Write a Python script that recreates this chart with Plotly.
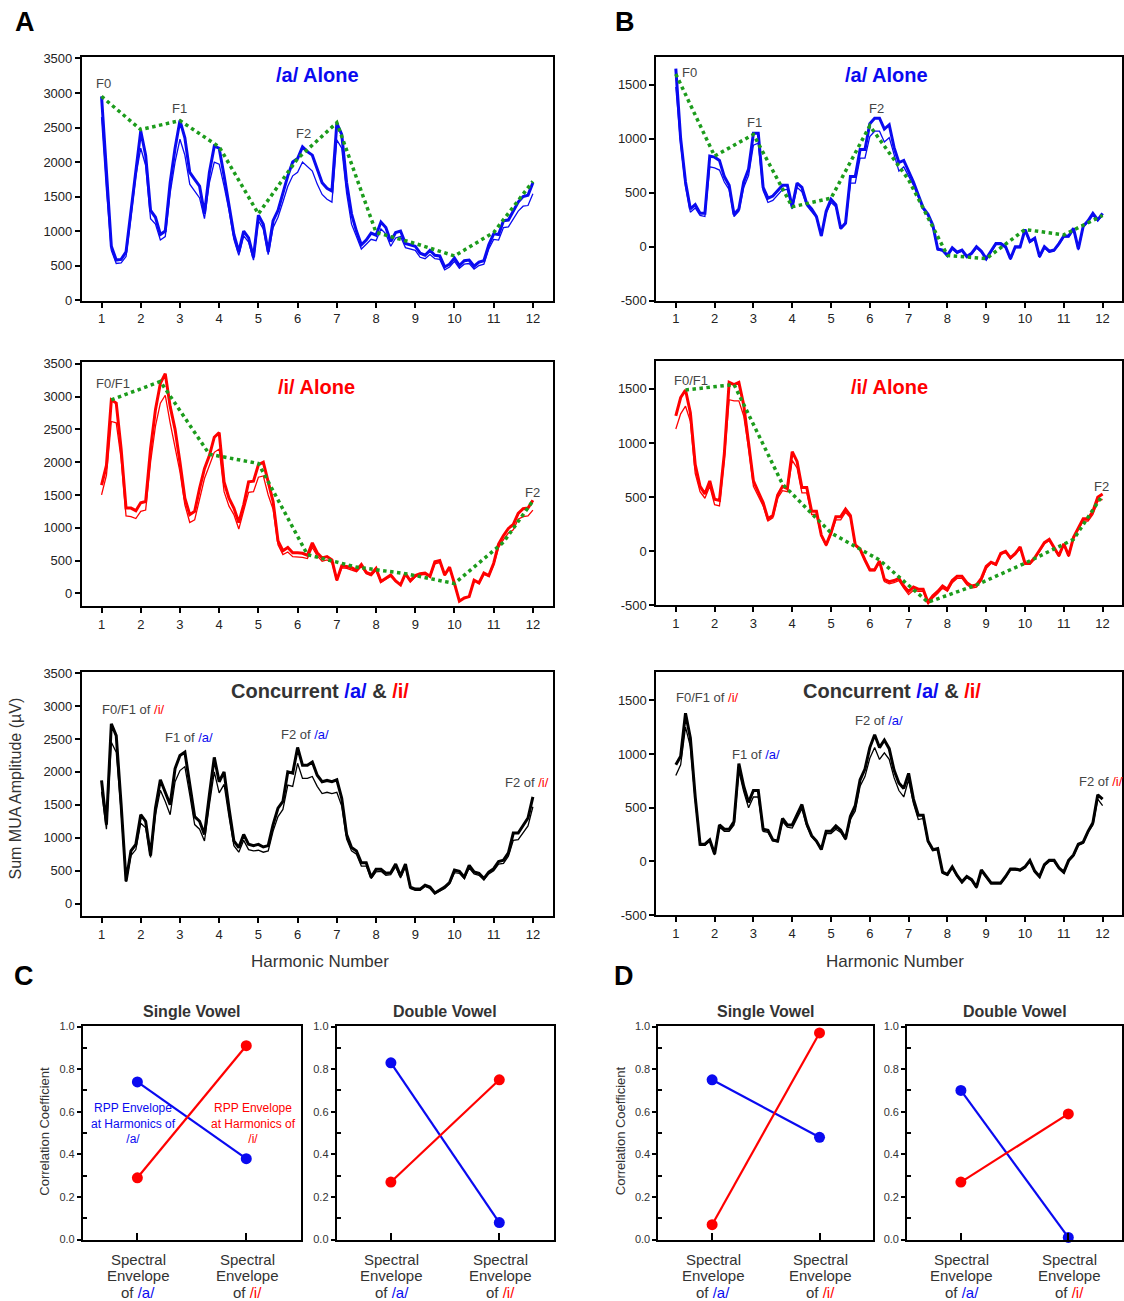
import numpy as np
import plotly.graph_objects as go

W, H = 1124, 1301
FONT = "Arial, Liberation Sans, sans-serif"
BLUE, RED, GREEN, DARK = "#0a0af0", "#ff0000", "#1c9c1c", "#333333"

# harmonic-number grid (step 1/8)
harm = np.round(np.arange(1, 12.0001, 0.125), 3)

# ---------------- Panel A ----------------
A_a_thick = [2950, 1800, 780, 580, 590, 700, 1300, 1900, 2450,
             2100, 1300, 1200, 950, 1000, 1700, 2200, 2600,
             2350, 1850, 1750, 1650, 1250, 1850, 2230, 2200,
             1800, 1400, 950, 700, 1000, 900, 620, 1230,
             1100, 700, 1150, 1300, 1550, 1800, 2000, 2050,
             2220, 2150, 2100, 1900, 1700, 1620, 1580, 2560,
             2400, 1700, 1250, 1000, 800, 870, 970, 940,
             1130, 1050, 850, 980, 1000, 820, 800, 780,
             680, 650, 720, 650, 640, 480, 520, 610,
             500, 570, 580, 490, 550, 570, 800, 960,
             950, 1150, 1160, 1300, 1420, 1500, 1520, 1700]
A_a_thin = [2650, 1600, 720, 530, 540, 630, 1200, 1800, 2200,
            1950, 1180, 1100, 870, 920, 1550, 2000, 2330,
            2100, 1680, 1580, 1480, 1180, 1700, 2000, 1970,
            1650, 1300, 880, 650, 930, 840, 580, 1150,
            1030, 660, 1050, 1200, 1420, 1650, 1800, 1850,
            2000, 1930, 1870, 1680, 1530, 1460, 1420, 2320,
            2200, 1550, 1100, 920, 740, 810, 880, 860,
            1030, 960, 780, 900, 920, 760, 740, 720,
            620, 600, 660, 600, 590, 440, 480, 560,
            460, 520, 530, 450, 500, 520, 740, 880,
            870, 1050, 1060, 1180, 1290, 1360, 1370, 1540]
A_a_env_x = [1, 2, 3, 4, 5, 6, 7, 8, 9, 10, 11, 12]
A_a_env_y = [2950, 2470, 2600, 2220, 1250, 2050, 2570, 980, 820, 640, 980, 1720]

A_i_thick = [1650, 1950, 2950, 2900, 2200, 1300, 1300, 1260, 1380,
             1400, 2200, 2800, 3200, 3350, 2850, 2500, 2000,
             1450, 1200, 1250, 1600, 1900, 2100, 2380, 2450,
             1700, 1450, 1300, 1080, 1350, 1700, 1710, 1960,
             2000, 1700, 1400, 800, 650, 700, 620, 620,
             610, 580, 770, 620, 540, 560, 510, 200,
             420, 410, 390, 350, 440, 320, 290, 380,
             180, 230, 280, 190, 130, 300, 190, 270,
             300, 310, 260, 480, 500, 280, 400, 150,
             -120, -70, -50, 200, 160, 310, 270, 460,
             750, 880, 990, 1050, 1220, 1290, 1300, 1420]
A_i_thin = [1500, 1800, 2620, 2600, 2050, 1180, 1170, 1140, 1250,
            1270, 2000, 2550, 2900, 3020, 2600, 2250, 1850,
            1350, 1080, 1120, 1450, 1750, 1950, 2150, 2200,
            1550, 1330, 1200, 980, 1250, 1540, 1550, 1770,
            1790, 1500, 1280, 740, 590, 630, 560, 560,
            550, 530, 700, 570, 490, 510, 470, 190,
            390, 380, 360, 330, 410, 300, 270, 350,
            170, 220, 260, 180, 130, 280, 180, 250,
            280, 290, 250, 450, 470, 270, 380, 140,
            -110, -70, -50, 190, 150, 290, 260, 430,
            700, 820, 920, 970, 1130, 1170, 1180, 1270]
A_i_env_x = [1.25, 2.5, 3.75, 5, 6.25, 7.5, 8.75, 10, 11.25, 12]
A_i_env_y = [2950, 3230, 2120, 1980, 590, 400, 300, 150, 780, 1410]

A_c_thick = [1870, 1200, 2730, 2550, 1500, 340, 800, 900, 1350,
             1250, 730, 1450, 1880, 1700, 1500, 2050, 2250,
             2300, 1800, 1320, 1250, 1050, 1650, 2220, 1850,
             2000, 1450, 950, 850, 1050, 900, 880, 900,
             860, 880, 1200, 1450, 1550, 2000, 1980, 2370,
             2100, 2100, 2150, 1950, 1850, 1870, 1850, 1880,
             1600, 1050, 850, 800, 620, 620, 400, 520,
             520, 460, 470, 600, 420, 600, 250, 220,
             220, 280, 250, 160, 200, 250, 320, 510,
             490, 400, 580, 480, 460, 380, 480, 530,
             640, 660, 770, 1070, 1070, 1180, 1300, 1620]
A_c_thin = [1700, 1130, 2450, 2300, 1400, 330, 730, 820, 1220,
            1150, 700, 1350, 1720, 1550, 1350, 1850, 2020,
            2080, 1650, 1200, 1130, 950, 1500, 2000, 1680,
            1810, 1320, 880, 780, 960, 820, 800, 810,
            780, 800, 1100, 1320, 1430, 1800, 1780, 2130,
            1900, 1900, 1930, 1780, 1670, 1690, 1670, 1690,
            1480, 980, 800, 750, 570, 570, 380, 480,
            490, 430, 440, 560, 390, 560, 230, 200,
            200, 260, 230, 150, 190, 230, 300, 470,
            460, 380, 540, 450, 430, 360, 450, 500,
            600, 610, 720, 960, 970, 1080, 1180, 1470]

# ---------------- Panel B ----------------
B_a_thick = [1650, 1000, 600, 350, 390, 310, 310, 840, 830,
             800, 650, 570, 300, 350, 600, 720, 1050,
             1050, 550, 450, 470, 520, 570, 570, 370,
             590, 550, 400, 350, 280, 100, 330, 440,
             390, 170, 220, 650, 650, 900, 900, 1140,
             1190, 1190, 1090, 1130, 920, 780, 800, 700,
             600, 480, 360, 300, 200, -20, -30, -80,
             -10, -50, -30, -90, -60, 0, -40, -110,
             -40, 30, 30, 0, -110, 0, 0, 160,
             50, 80, -90, 0, -40, -30, 30, 100,
             100, 170, -20, 190, 240, 310, 250, 310]
B_a_thin = [1480, 950, 560, 320, 360, 290, 280, 740, 730,
            710, 600, 530, 280, 330, 550, 660, 940,
            960, 520, 410, 430, 480, 530, 530, 350,
            550, 510, 380, 330, 270, 100, 310, 410,
            370, 170, 210, 590, 590, 820, 820, 1020,
            1070, 1070, 970, 1010, 850, 700, 740, 660,
            570, 460, 350, 290, 190, -30, -40, -90,
            -20, -60, -40, -100, -70, -10, -50, -120,
            -50, 20, 20, -10, -120, -10, -10, 150,
            40, 70, -100, -10, -50, -40, 20, 90,
            90, 160, -30, 180, 230, 290, 240, 290]
B_a_env_x = [1, 2, 3, 4, 5, 6, 7, 8, 9, 10, 11, 12]
B_a_env_y = [1600, 840, 1040, 370, 450, 1120, 620, -80, -110, 160, 110, 290]

B_i_thick = [1250, 1420, 1490, 1280, 800, 600, 530, 650, 480,
             470, 900, 1560, 1540, 1560, 1350, 1000, 650,
             550, 450, 300, 330, 520, 600, 580, 920,
             830, 590, 590, 370, 370, 150, 60, 170,
             320, 320, 390, 330, 60, 20, -80, -170,
             -170, -90, -260, -280, -270, -250, -320, -370,
             -330, -350, -350, -470, -410, -370, -320, -350,
             -270, -230, -230, -290, -320, -310, -250, -140,
             -100, -120, -20, 0, -60, -20, 40, -110,
             -110, -60, 10, 80, 110, 30, -40, 70,
             -40, 130, 220, 300, 300, 370, 500, 530]
B_i_thin = [1130, 1270, 1340, 1200, 720, 550, 490, 600, 430,
            420, 850, 1400, 1390, 1390, 1250, 950, 600,
            510, 420, 280, 310, 490, 560, 550, 840,
            770, 540, 540, 340, 340, 140, 50, 160,
            290, 290, 360, 310, 50, 10, -90, -180,
            -180, -100, -280, -300, -290, -270, -340, -400,
            -360, -370, -370, -490, -430, -390, -340, -370,
            -290, -250, -250, -310, -340, -330, -270, -160,
            -110, -130, -30, -10, -70, -30, 30, -120,
            -120, -70, 0, 70, 100, 20, -50, 60,
            -50, 120, 200, 280, 280, 340, 460, 480]
B_i_env_x = [1.25, 2.5, 3.75, 5, 6.25, 7.5, 8.75, 10, 11.25, 12]
B_i_env_y = [1490, 1540, 620, 170, -80, -470, -310, -110, 110, 520]

B_c_thick = [900, 980, 1380, 1150, 600, 160, 160, 200, 70,
             340, 300, 300, 370, 910, 700, 550, 660,
             660, 300, 290, 200, 190, 400, 340, 340,
             440, 530, 350, 240, 190, 110, 280, 280,
             330, 290, 210, 420, 520, 760, 860, 1060,
             1180, 1060, 1130, 1050, 850, 730, 680, 820,
             580, 430, 430, 190, 110, 120, -100, -120,
             -50, -130, -190, -140, -170, -240, -80, -140,
             -200, -200, -200, -140, -70, -70, -80, -50,
             10, -90, -140, -30, 10, 10, -60, -100,
             10, 60, 160, 180, 280, 360, 620, 580]
B_c_thin = [800, 900, 1250, 1070, 570, 150, 150, 190, 60,
            320, 280, 280, 340, 840, 650, 500, 600,
            600, 280, 270, 190, 180, 370, 320, 310,
            400, 490, 330, 230, 180, 110, 260, 260,
            300, 270, 200, 390, 470, 700, 790, 960,
            1060, 950, 1010, 950, 780, 660, 600, 760,
            540, 390, 400, 180, 100, 110, -110, -130,
            -60, -140, -200, -150, -180, -250, -90, -150,
            -210, -210, -210, -150, -80, -80, -90, -60,
            0, -100, -150, -40, 0, 0, -70, -110,
            0, 50, 150, 170, 270, 340, 580, 520]

# tick labels
A_yticks = [0, 500, 1000, 1500, 2000, 2500, 3000, 3500]
B_yticks = [-500, 0, 500, 1000, 1500]
x_ticks = list(range(1, 13))

# ---------------- Panels C / D ----------------
cats = [0, 1]
C_single_blue = [0.74, 0.38]
C_single_red = [0.29, 0.91]
C_double_blue = [0.83, 0.08]
C_double_red = [0.27, 0.75]
D_single_blue = [0.75, 0.48]
D_single_red = [0.07, 0.97]
D_double_blue = [0.70, 0.01]
D_double_red = [0.27, 0.59]
corr_ticks = [0, 0.2, 0.4, 0.6, 0.8, 1.0]


def px_x(a, b):
    return [a / W, b / W]


def px_y(top, bottom):
    return [1 - bottom / H, 1 - top / H]


fig = go.Figure()
layout = dict(width=W, height=H, margin=dict(l=0, r=0, t=0, b=0),
              paper_bgcolor="white", plot_bgcolor="white",
              showlegend=False, font=dict(family=FONT, color=DARK))
annotations = []

line_panels = [
    ("A1", (82, 553), (52, 298), [-10, 3515], A_yticks, A_a_thick, A_a_thin, BLUE, A_a_env_x, A_a_env_y),
    ("A2", (82, 553), (360, 607), [-200, 3525], A_yticks, A_i_thick, A_i_thin, RED, A_i_env_x, A_i_env_y),
    ("A3", (82, 553), (673, 920), [-190, 3520], A_yticks, A_c_thick, A_c_thin, "#000000", None, None),
    ("B1", (657, 1123), (52, 298), [-500, 1753], B_yticks, B_a_thick, B_a_thin, BLUE, B_a_env_x, B_a_env_y),
    ("B2", (657, 1123), (359, 606), [-500, 1756], B_yticks, B_i_thick, B_i_thin, RED, B_i_env_x, B_i_env_y),
    ("B3", (657, 1123), (673, 919), [-500, 1766], B_yticks, B_c_thick, B_c_thin, "#000000", None, None),
]

axis_idx = 0
for name, xd, yd, yr, yt, thick, thin, col, ex, ey in line_panels:
    axis_idx += 1
    sfx = "" if axis_idx == 1 else str(axis_idx)
    xa, ya = "x" + sfx, "y" + sfx
    layout["xaxis" + sfx] = dict(domain=px_x(*xd), anchor=ya, range=[0.5, 12.5],
                                 tickvals=x_ticks, ticks="outside", ticklen=5,
                                 tickwidth=1.5, tickcolor="#000", showline=True, linewidth=2,
                                 linecolor="#000", mirror=True, showgrid=False, zeroline=False,
                                 tickfont=dict(size=13, color="#222"))
    layout["yaxis" + sfx] = dict(domain=px_y(*yd), anchor=xa, range=yr, tickvals=yt,
                                 ticktext=[str(v) for v in yt],
                                 ticks="outside", ticklen=5, tickwidth=1.5, tickcolor="#000",
                                 showline=True, linewidth=2, linecolor="#000", mirror=True,
                                 showgrid=False, zeroline=False,
                                 tickfont=dict(size=13, color="#222"))
    fig.add_trace(go.Scatter(x=harm, y=thin, mode="lines", xaxis=xa, yaxis=ya,
                             line=dict(color=col, width=1.3)))
    fig.add_trace(go.Scatter(x=harm, y=thick, mode="lines", xaxis=xa, yaxis=ya,
                             line=dict(color=col, width=3)))
    if ex is not None:
        fig.add_trace(go.Scatter(x=ex, y=ey, mode="lines", xaxis=xa, yaxis=ya,
                                 line=dict(color=GREEN, width=3.5, dash="dot")))

lab = lambda txt, xa, ya, x, y, anchor="center": annotations.append(
    dict(text=txt, x=x, y=y, xref=xa, yref=ya, showarrow=False, xanchor=anchor,
         font=dict(size=13, color="#444")))
ai = lambda s: f"<span style='color:{BLUE}'>{s}</span>"
ii = lambda s: f"<span style='color:{RED}'>{s}</span>"
lab("F0", "x", "y", 1.05, 3135)
lab("F1", "x", "y", 3.0, 2774)
lab("F2", "x", "y", 6.15, 2408)
lab("F0/F1", "x2", "y2", 1.28, 3200)
lab("F2", "x2", "y2", 11.98, 1540)
lab("F0/F1 of " + ii("/i/"), "x3", "y3", 1.82, 2945)
lab("F1 of " + ai("/a/"), "x3", "y3", 3.23, 2520)
lab("F2 of " + ai("/a/"), "x3", "y3", 6.18, 2560)
lab("F2 of " + ii("/i/"), "x3", "y3", 11.85, 1835)
lab("F0", "x4", "y4", 1.12, 1612, "left")
lab("F1", "x4", "y4", 3.04, 1149)
lab("F2", "x4", "y4", 6.17, 1280)
lab("F0/F1", "x5", "y5", 1.39, 1576)
lab("F2", "x5", "y5", 11.96, 603)
lab("F0/F1 of " + ii("/i/"), "x6", "y6", 1.81, 1524)
lab("F1 of " + ai("/a/"), "x6", "y6", 3.07, 1000)
lab("F2 of " + ai("/a/"), "x6", "y6", 6.24, 1309)
lab("F2 of " + ii("/i/"), "x6", "y6", 11.34, 743, "left")


def paper_text(txt, xpx, ypx, size, color=DARK, bold=False, angle=0, xanchor="center"):
    t = f"<b>{txt}</b>" if bold else txt
    annotations.append(dict(text=t, x=xpx / W, y=1 - ypx / H, xref="paper", yref="paper",
                            showarrow=False, xanchor=xanchor, yanchor="middle",
                            textangle=angle, font=dict(size=size, color=color, family=FONT)))


paper_text("/a/ Alone", 318, 70, 20, BLUE, True)
paper_text("/i/ Alone", 317, 385, 20, RED, True)
paper_text(f"Concurrent {ai('/a/')} &amp; {ii('/i/')}", 320, 692, 20, DARK, True)
paper_text("/a/ Alone", 887, 70, 20, BLUE, True)
paper_text("/i/ Alone", 890, 385, 20, RED, True)
paper_text(f"Concurrent {ai('/a/')} &amp; {ii('/i/')}", 893, 692, 20, DARK, True)

for L, xp, yp in [("A", 25, 16), ("B", 626, 16), ("C", 24, 981), ("D", 625, 981)]:
    paper_text(L, xp, yp, 27, "#000", True)
paper_text("Harmonic Number", 320, 966, 17, DARK)
paper_text("Harmonic Number", 896, 966, 17, DARK)
paper_text("Sum MUA Amplitude (µV)", 16, 791, 16, DARK, angle=-90)
paper_text("Correlation Coefficient", 45, 1137, 13, DARK, angle=-90)
paper_text("Correlation Coefficient", 621, 1137, 13, DARK, angle=-90)

corr_panels = [
    ("Single Vowel", (83, 301), C_single_blue, C_single_red),
    ("Double Vowel", (337, 554), C_double_blue, C_double_red),
    ("Single Vowel", (659, 874), D_single_blue, D_single_red),
    ("Double Vowel", (908, 1123), D_double_blue, D_double_red),
]
for title, xd, blue_v, red_v in corr_panels:
    axis_idx += 1
    sfx = str(axis_idx)
    xa, ya = "x" + sfx, "y" + sfx
    layout["xaxis" + sfx] = dict(domain=px_x(*xd), anchor=ya, range=[-0.5, 1.5],
                                 tickvals=cats, ticktext=["", ""], ticks="inside", ticklen=7,
                                 tickwidth=2, tickcolor="#000", showline=True, linewidth=2,
                                 linecolor="#000", mirror=True, showgrid=False, zeroline=False)
    layout["yaxis" + sfx] = dict(domain=px_y(1031, 1247), anchor=xa, range=[0, 1.003],
                                 tickvals=corr_ticks,
                                 ticktext=[f"{v:.1f}" for v in corr_ticks],
                                 ticks="outside", ticklen=4, tickwidth=1.5, tickcolor="#000",
                                 minor=dict(tickvals=[0.1, 0.3, 0.5, 0.7, 0.9], ticks="inside",
                                            ticklen=4, tickwidth=1.5, tickcolor="#000"),
                                 showline=True, linewidth=2, linecolor="#000", mirror=True,
                                 showgrid=False, zeroline=False,
                                 tickfont=dict(size=11, color=DARK))
    fig.add_trace(go.Scatter(x=cats, y=blue_v, mode="lines+markers", xaxis=xa, yaxis=ya,
                             line=dict(color=BLUE, width=2.2),
                             marker=dict(color=BLUE, size=11), cliponaxis=False))
    fig.add_trace(go.Scatter(x=cats, y=red_v, mode="lines+markers", xaxis=xa, yaxis=ya,
                             line=dict(color=RED, width=2.2),
                             marker=dict(color=RED, size=11), cliponaxis=False))
    cx = (xd[0] + xd[1]) / 2
    paper_text(title, cx, 1016, 16, DARK, True)
    span = xd[1] - xd[0]
    for ci, vowel in enumerate([ai("/a/"), ii("/i/")]):
        xc = xd[0] + span * (cats[ci] + 0.5) / 2.0
        for li, txt in enumerate(["Spectral", "Envelope", "of " + vowel]):
            paper_text(txt, xc + 1, 1267 + li * 16.5, 15, DARK)

annotations.append(dict(text="RPP Envelope<br>at Harmonics of<br>/a/", x=-0.04, y=0.545,
                        xref="x7", yref="y7", showarrow=False,
                        font=dict(size=12, color=BLUE, family=FONT)))
annotations.append(dict(text="RPP Envelope<br>at Harmonics of<br>/i/", x=1.07, y=0.545,
                        xref="x7", yref="y7", showarrow=False,
                        font=dict(size=12, color=RED, family=FONT)))

layout["annotations"] = annotations
fig.update_layout(**layout)
fig.write_html("out.html")
